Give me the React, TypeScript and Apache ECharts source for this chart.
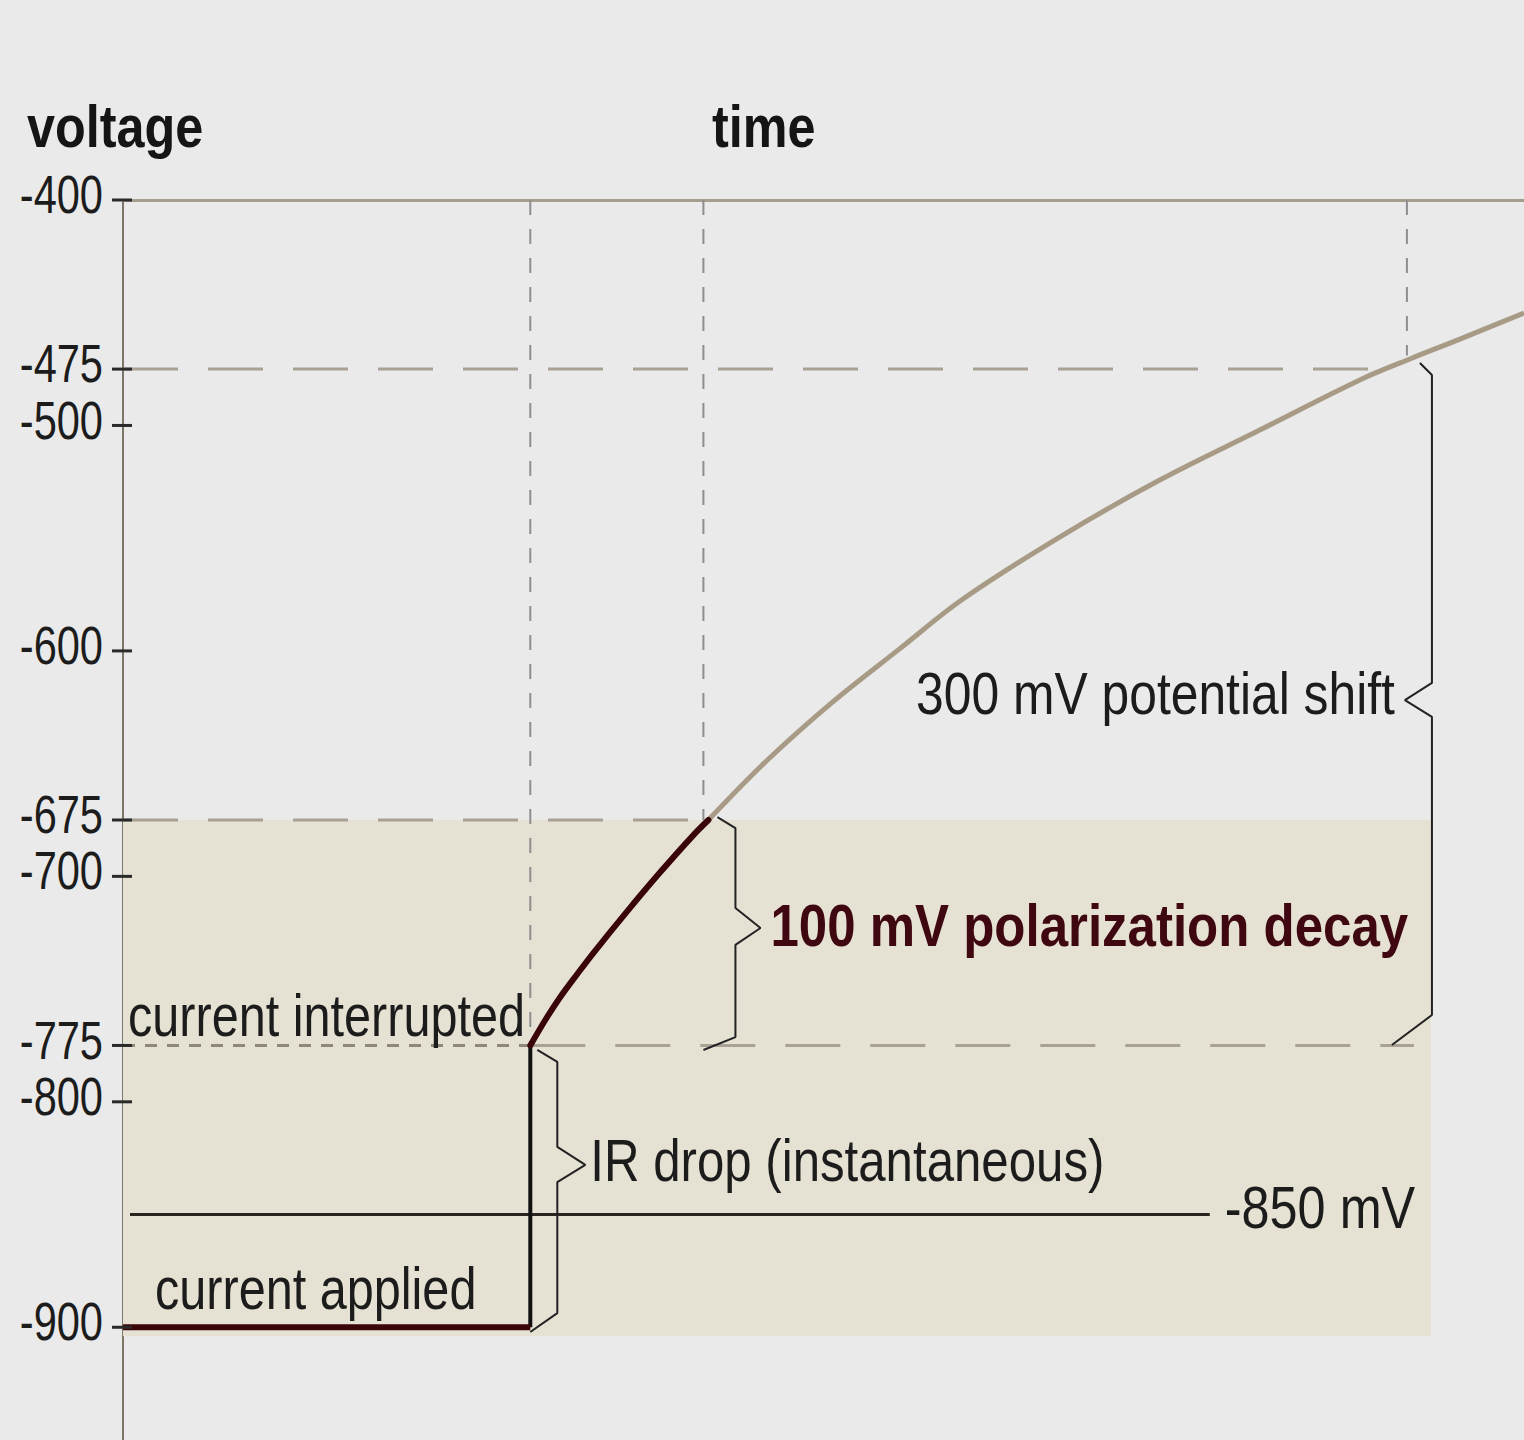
import React, { useEffect, useRef } from 'react';
import * as echarts from 'echarts';

// ---- axis ----
const yTicks = [-400, -475, -500, -600, -675, -700, -775, -800, -900];
const yMin = -950;
const yMax = -400;
const tMax = 14;

// ---- series (time in arbitrary units, voltage in mV) ----
const appliedT = [0, 4.07];
const appliedV = [-900, -900];
const irDropT = [4.07, 4.07];
const irDropV = [-900, -775];
const decayT = [4.07, 4.22, 4.37, 4.54, 4.7, 5.04, 5.37, 5.7, 5.85];
const decayV = [-775, -763.7, -753.5, -743.3, -734.0, -715.4, -698.1, -681.7, -675];
const shiftT = [5.85, 6.44, 7.09, 7.76, 8.39, 9.36, 10.36, 11.36, 12.36, 12.86, 13.36, 14.0];
const shiftV = [-675, -648.4, -622.7, -599.1, -577.1, -549.5, -524.2, -502.0, -479.8, -470.5, -461.7, -450.1];

// criterion line
const critT = [0.07, 10.86];
const critV = [-850, -850];

// reference dashed lines
const ref475T = [0, 12.48];
const ref675T = [0, 5.85];
const ref775LeftT = [0, 4.07];
const ref775RightT = [4.07, 12.9];
const vLineT = [4.07, 5.8, 12.83];
const vLineBottom = [-775, -675, -469];

// shaded band
const shadeT = [0, 13.07];
const shadeV = [-675, -904];

// braces
const brace300T = [12.96, 13.08, 13.08, 12.81, 13.08, 13.08, 12.68];
const brace300V = [-472.3, -477.6, -614.2, -621.8, -629.3, -761.5, -774.8];
const brace100T = [5.94, 6.12, 6.12, 6.37, 6.12, 6.12, 5.8];
const brace100V = [-673.7, -678.6, -714.0, -722.9, -730.4, -771.3, -777.0];
const braceIRT = [4.14, 4.34, 4.34, 4.62, 4.34, 4.34, 4.07];
const braceIRV = [-777.0, -782.3, -820.0, -828.0, -835.6, -893.7, -902.1];

// annotations
const labelTexts = [
  'current interrupted',
  'current applied',
  'IR drop (instantaneous)',
  '-850 mV',
  '100 mV polarization decay',
  '300 mV potential shift',
];
const labelT = [0.05, 0.32, 4.67, 11.01, 6.47, 12.71];
const labelV = [-762, -883, -826, -847, -722, -619];

const FONT = '"Liberation Sans", Arial, sans-serif';

const zip = (a: number[], b: number[]) => a.map((v, i) => [v, b[i]]);

export default function App() {
  const ref = useRef<HTMLDivElement>(null);
  useEffect(() => {
    if (!ref.current) return;
    const chart = echarts.init(ref.current, null, { renderer: 'svg' });

    const line = (name: string, data: number[][], color: string, width: number, type: any, z: number) => ({
      name,
      type: 'line',
      data,
      symbol: 'none',
      silent: true,
      z,
      lineStyle: { color, width, type },
    });

    const labelStyles: any[] = [
      { align: 'left', weight: 'normal', color: '#1c1c1c', sx: 0.81 },
      { align: 'left', weight: 'normal', color: '#1c1c1c', sx: 0.81 },
      { align: 'left', weight: 'normal', color: '#1c1c1c', sx: 0.82 },
      { align: 'left', weight: 'normal', color: '#1c1c1c', sx: 0.84 },
      { align: 'left', weight: 'bold', color: '#3f0710', sx: 0.85 },
      { align: 'right', weight: 'normal', color: '#1c1c1c', sx: 0.83 },
    ];

    const option: any = {
      animation: false,
      backgroundColor: '#eaeaea',
      grid: { left: 123, right: 0, top: 200, bottom: 0 },
      xAxis: {
        type: 'value',
        min: 0,
        max: tMax,
        position: 'top',
        axisLine: { show: true, onZero: false, lineStyle: { color: '#a69e8d', width: 3 } },
        axisTick: { show: false },
        axisLabel: { show: false },
        splitLine: { show: false },
      },
      yAxis: {
        type: 'value',
        min: yMin,
        max: yMax,
        axisLine: { show: true, onZero: false, lineStyle: { color: '#7d7568', width: 2 } },
        axisTick: { show: false },
        axisLabel: { show: false },
        splitLine: { show: false },
      },
      graphic: [
        {
          type: 'text',
          x: 27,
          y: 126,
          scaleX: 0.84,
          style: { text: 'voltage', font: 'bold 60px ' + FONT, fill: '#151515', verticalAlign: 'middle' },
        },
        {
          type: 'text',
          x: 712,
          y: 126,
          scaleX: 0.84,
          style: { text: 'time', font: 'bold 60px ' + FONT, fill: '#151515', verticalAlign: 'middle' },
        },
      ],
      series: [
        {
          name: 'shade',
          type: 'custom',
          silent: true,
          z: 1,
          data: [[shadeT[0], shadeV[0], shadeT[1], shadeV[1]]],
          renderItem: (params: any, api: any) => {
            const p1 = api.coord([api.value(0), api.value(1)]);
            const p2 = api.coord([api.value(2), api.value(3)]);
            return {
              type: 'rect',
              shape: { x: p1[0], y: p1[1], width: p2[0] - p1[0], height: p2[1] - p1[1] },
              style: { fill: '#e5e1d3' },
            };
          },
        },
        line('ref475', zip(ref475T, [-475, -475]), '#a9a294', 3, [55, 30], 2),
        line('ref675', zip(ref675T, [-675, -675]), '#a9a294', 3, [55, 30], 2),
        line('ref775a', zip(ref775LeftT, [-775, -775]), '#8f887a', 3, [12, 10], 2),
        line('ref775b', zip(ref775RightT, [-775, -775]), '#a9a294', 3, [55, 30], 2),
        ...vLineT.map((t, i) =>
          line('v' + i, [[t, yMax], [t, vLineBottom[i]]], '#8e8e8e', 2, [15, 14], 2)
        ),
        line('criterion', zip(critT, critV), '#2a2420', 3, 'solid', 3),
        line('brace300', zip(brace300T, brace300V), '#222222', 2, 'solid', 4),
        line('brace100', zip(brace100T, brace100V), '#222222', 2, 'solid', 4),
        line('braceIR', zip(braceIRT, braceIRV), '#222222', 2, 'solid', 4),
        {
          ...line('shift', zip(shiftT, shiftV), '#a89b86', 5, 'solid', 5),
          smooth: 0.35,
        },
        line('irdrop', zip(irDropT, irDropV), '#111111', 4, 'solid', 6),
        line('applied', zip(appliedT, appliedV), '#3a0508', 6, 'solid', 6),
        {
          ...line('decay', zip(decayT, decayV), '#3a0508', 6, 'solid', 6),
          smooth: 0.35,
          lineStyle: { color: '#3a0508', width: 6, cap: 'round' },
        },
        {
          name: 'tickLabels',
          type: 'custom',
          silent: true,
          clip: false,
          z: 7,
          data: yTicks.map((v) => [0, v]),
          renderItem: (params: any, api: any) => {
            const p = api.coord([api.value(0), api.value(1)]);
            return {
              type: 'group',
              children: [
                {
                  type: 'line',
                  shape: { x1: p[0] - 11, y1: p[1], x2: p[0] + 9, y2: p[1] },
                  style: { stroke: '#2a2a2a', lineWidth: 3 },
                },
                {
                  type: 'text',
                  x: p[0] - 20,
                  y: p[1] - 6,
                  scaleX: 0.77,
                  style: {
                    text: String(api.value(1)),
                    font: '54px ' + FONT,
                    fill: '#1c1c1c',
                    align: 'right',
                    verticalAlign: 'middle',
                  },
                },
              ],
            };
          },
        },
        {
          name: 'labels',
          type: 'custom',
          silent: true,
          clip: false,
          z: 8,
          data: zip(labelT, labelV),
          renderItem: (params: any, api: any) => {
            const i = params.dataIndex;
            const s = labelStyles[i];
            const p = api.coord([api.value(0), api.value(1)]);
            return {
              type: 'text',
              x: p[0],
              y: p[1],
              scaleX: s.sx,
              style: {
                text: labelTexts[i],
                font: s.weight + ' 60px ' + FONT,
                fill: s.color,
                align: s.align,
                verticalAlign: 'middle',
              },
            };
          },
        },
      ],
    };
    chart.setOption(option);
    return () => chart.dispose();
  }, []);
  return (
    <div
      ref={ref}
      style={{ position: 'absolute', left: 0, top: 0, width: 1524, height: 1440 }}
    />
  );
}
